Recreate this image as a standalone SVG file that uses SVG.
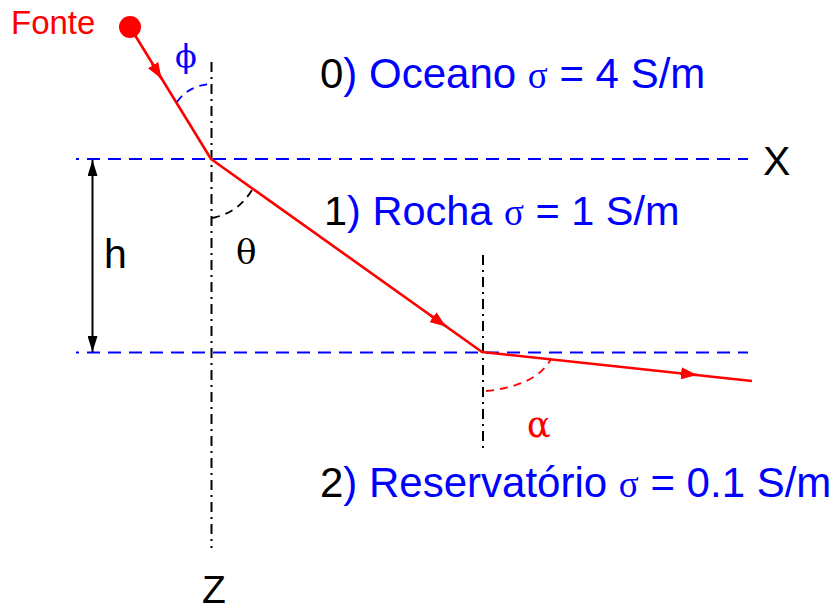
<svg xmlns="http://www.w3.org/2000/svg" width="836" height="611" viewBox="0 0 836 611">
<style>
.sans{font-family:"Liberation Sans",Arial,sans-serif;}
.greek{font-family:"DejaVu Serif","Liberation Serif",serif;}
.sig{font-family:"Liberation Serif","DejaVu Serif",serif;font-size:37px;}
.blue{fill:#0000ff;}
.red{fill:#ff0000;}
.blk{fill:#000;}
.iface{stroke:#0000ff;stroke-width:2;stroke-dasharray:13 8;stroke-dashoffset:10;fill:none;}
.axis{stroke:#000;stroke-width:2;stroke-dasharray:10 5 2 5;fill:none;}
.ray{stroke:#ff0000;stroke-width:2.6;fill:none;stroke-linejoin:round;}
.arc{stroke-width:1.8;stroke-dasharray:8 6;fill:none;}
</style>
<defs>
<marker id="arrR" markerUnits="userSpaceOnUse" viewBox="0 0 16 12" refX="16" refY="6" markerWidth="16" markerHeight="12" orient="auto">
<path d="M0,0 L16,6 L0,12 z" fill="#ff0000"/>
</marker>
<marker id="arrK" markerUnits="userSpaceOnUse" viewBox="0 0 16 10" refX="16" refY="5" markerWidth="16" markerHeight="10" orient="auto-start-reverse">
<path d="M0,0 L16,5 L0,10 z" fill="#000"/>
</marker>
</defs>

<g id="connectors">
<line class="iface" x1="76" y1="159" x2="748" y2="159"/>
<line class="iface" x1="76" y1="352.5" x2="748" y2="352.5"/>
<line class="axis" x1="211.5" y1="62" x2="211.5" y2="548"/>
<line class="axis" x1="483" y1="255" x2="483" y2="450"/>
<polyline class="ray" points="130,27 211,159 482,352 752,381"/>
<line stroke="#ff0000" stroke-width="2.6" x1="152" y1="63.3" x2="161.5" y2="78.8" marker-end="url(#arrR)"/>
<line stroke="#ff0000" stroke-width="2.6" x1="430" y1="315" x2="446" y2="326.4" marker-end="url(#arrR)"/>
<line stroke="#ff0000" stroke-width="2.6" x1="680" y1="373.2" x2="697" y2="375" marker-end="url(#arrR)"/>
<line stroke="#000" stroke-width="2" x1="92.5" y1="160" x2="92.5" y2="352" marker-start="url(#arrK)" marker-end="url(#arrK)"/>
<path class="arc" stroke="#0000ff" d="M177,102 Q188,86 210,84"/>
<path class="arc" stroke="#000" d="M212,218 Q238,213 252,190"/>
<path class="arc" stroke="#ff0000" d="M486,391 Q536,386 551,359"/>
</g>

<g id="source">
<circle cx="130" cy="27" r="11" fill="#ff0000"/>
<text class="sans red" x="11" y="34" font-size="33">Fonte</text>
</g>

<g id="layer0">
<text class="sans" x="320" y="88" font-size="42"><tspan class="blk">0</tspan><tspan class="blue">) Oceano </tspan><tspan class="sig blue">σ</tspan><tspan class="blue"> = 4 S/m</tspan></text>
</g>
<g id="layer1">
<text class="sans" x="324" y="225" font-size="41.5"><tspan class="blk">1</tspan><tspan class="blue">) Rocha </tspan><tspan class="sig blue">σ</tspan><tspan class="blue"> = 1 S/m</tspan></text>
</g>
<g id="layer2">
<text class="sans" x="320" y="497" font-size="42"><tspan class="blk">2</tspan><tspan class="blue">) Reservatório </tspan><tspan class="sig blue">σ</tspan><tspan class="blue"> = 0.1 S/m</tspan></text>
</g>

<g id="labels">
<text class="sans blk" x="763" y="175" font-size="41">X</text>
<text class="sans blk" x="202" y="603" font-size="39">Z</text>
<text class="sans blk" x="104" y="268" font-size="41">h</text>
<text class="greek blue" x="175" y="67" font-size="32">ϕ</text>
<text class="greek blk" x="236" y="264" font-size="34">θ</text>
<text class="greek red" x="527" y="437" font-size="35">α</text>
</g>
</svg>
